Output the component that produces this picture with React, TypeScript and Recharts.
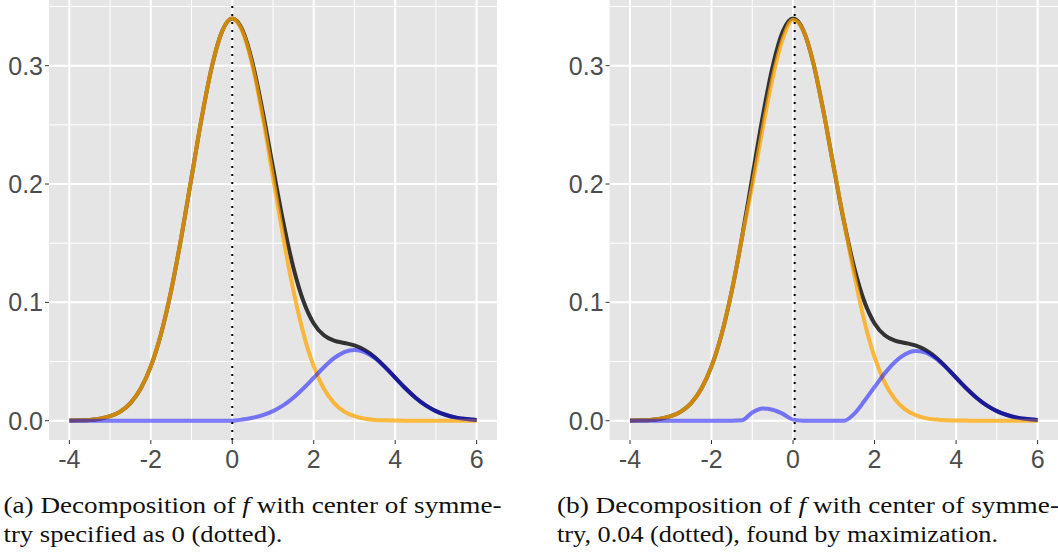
import { LineChart, Line, XAxis, YAxis, CartesianGrid, ReferenceLine } from "recharts";

// grid of x positions the curves were read at
const xs = [
  -4, -3.75, -3.5, -3.25, -3, -2.75, -2.5, -2.25, -2, -1.75, -1.5, -1.25, -1, -0.75, -0.5, -0.25,
  0, 0.25, 0.5, 0.75, 1, 1.25, 1.5, 1.75, 2, 2.25, 2.5, 2.75, 3, 3.25, 3.5, 3.75, 4, 4.25, 4.5,
  4.75, 5, 5.25, 5.5, 5.75, 6,
];

// f (black), same in both panels
const fTotal = [
  0.0001, 0.0003, 0.0007, 0.0017, 0.0038, 0.0077, 0.0149, 0.027, 0.0459, 0.0733, 0.1101, 0.1553,
  0.2057, 0.256, 0.2994, 0.329, 0.3398, 0.33, 0.3019, 0.2607, 0.2138, 0.1682, 0.1295, 0.1007,
  0.0822, 0.0722, 0.0677, 0.0657, 0.0636, 0.0597, 0.0536, 0.0455, 0.0364, 0.0274, 0.0194, 0.0129,
  0.0081, 0.0048, 0.0026, 0.0014, 0.0007,
];

// (a) symmetric part (orange) and remainder (blue)
const symA = [
  0.0001, 0.0003, 0.0007, 0.0017, 0.0038, 0.0077, 0.0149, 0.027, 0.0459, 0.0733, 0.1101, 0.1553,
  0.2057, 0.256, 0.2994, 0.329, 0.3398, 0.329, 0.2994, 0.256, 0.2057, 0.1553, 0.1101, 0.0733,
  0.0459, 0.027, 0.0149, 0.0077, 0.0038, 0.0017, 0.0007, 0.0003, 0.0001, 0, 0, 0, 0, 0, 0, 0, 0,
];
const restA = [
  0, 0, 0, 0, 0, 0, 0, 0, 0, 0, 0, 0, 0, 0, 0, 0, 0, 0.001, 0.0025, 0.0047, 0.0081, 0.0129,
  0.0194, 0.0274, 0.0363, 0.0452, 0.0528, 0.058, 0.0598, 0.058, 0.0529, 0.0452, 0.0363, 0.0274,
  0.0194, 0.0129, 0.0081, 0.0048, 0.0026, 0.0014, 0.0007,
];

// (b) symmetric part about 0.04 and remainder
const symB = [
  0.0001, 0.0003, 0.0007, 0.0017, 0.0038, 0.0077, 0.0149, 0.027, 0.0459, 0.0733, 0.1101, 0.1549,
  0.1987, 0.246, 0.2898, 0.3228, 0.3389, 0.33, 0.3019, 0.2607, 0.2138, 0.1682, 0.1237, 0.0841,
  0.0537, 0.0322, 0.0181, 0.0096, 0.0048, 0.0022, 0.001, 0.0004, 0.0002, 0.0001, 0, 0, 0, 0, 0, 0, 0,
];
const restB = [
  0, 0, 0, 0, 0, 0, 0, 0, 0, 0, 0, 0.0004, 0.007, 0.0104, 0.0093, 0.0058, 0.0009, 0, 0, 0, 0, 0,
  0.0058, 0.0166, 0.0285, 0.04, 0.0496, 0.0561, 0.0588, 0.0575, 0.0526, 0.0451, 0.0362, 0.0273,
  0.0194, 0.0129, 0.0081, 0.0048, 0.0026, 0.0014, 0.0007,
];

const xTicks = [-4, -2, 0, 2, 4, 6];
const xMinor = [-3, -1, 1, 3, 5];
const yTicks = [0, 0.1, 0.2, 0.3];
const yMinor = [0.05, 0.15, 0.25, 0.35];

const BG = "#E5E5E5";
const tickStyle = { fill: "#4D4D4D", fontSize: 25, fontFamily: "Liberation Sans, Arial, sans-serif" };

function Panel({ sym, rest, center, width, yAxisWidth, marginRight }: any) {
  const rows = xs.map((x, i) => ({ x, total: fTotal[i], sym: sym[i], rest: rest[i] }));
  return (
    <LineChart
      width={width}
      height={475}
      data={rows}
      margin={{ top: 0, right: marginRight, bottom: 0, left: 0 }}
    >
      <CartesianGrid
        fill={BG}
        stroke="#fff"
        strokeWidth={1}
        horizontalValues={yMinor}
        verticalValues={xMinor}
      />
      <CartesianGrid stroke="#fff" strokeWidth={2} horizontalValues={yTicks} verticalValues={xTicks} />
      <XAxis
        type="number"
        dataKey="x"
        domain={[-4.5, 6.5]}
        ticks={xTicks}
        allowDataOverflow
        axisLine={false}
        tickLine={{ stroke: "#333" }}
        tickSize={4}
        tickMargin={6}
        height={35}
        tick={tickStyle}
        interval={0}
      />
      <YAxis
        type="number"
        domain={[-0.0163, 0.3555]}
        ticks={yTicks}
        allowDataOverflow
        axisLine={false}
        tickLine={{ stroke: "#333" }}
        tickSize={4}
        tickMargin={2}
        width={yAxisWidth}
        tick={tickStyle}
        tickFormatter={(v: number) => v.toFixed(1)}
        interval={0}
      />
      <Line
        type="monotone"
        dataKey="total"
        stroke="#000"
        strokeOpacity={0.78}
        strokeWidth={4}
        dot={false}
        activeDot={false}
        isAnimationActive={false}
      />
      <Line
        type="monotone"
        dataKey="sym"
        stroke="#FFA500"
        strokeOpacity={0.75}
        strokeWidth={4}
        dot={false}
        activeDot={false}
        isAnimationActive={false}
      />
      <Line
        type="monotone"
        dataKey="rest"
        stroke="#0000FF"
        strokeOpacity={0.5}
        strokeWidth={4}
        dot={false}
        activeDot={false}
        isAnimationActive={false}
      />
      <ReferenceLine x={center} stroke="#000" strokeWidth={2} strokeDasharray="2 6" />
    </LineChart>
  );
}

const serif = "Liberation Serif, Times New Roman, serif";

export default function App() {
  return (
    <div
      style={{
        position: "absolute",
        left: 0,
        top: 0,
        width: 1058,
        height: 554,
        background: "#fff",
        overflow: "hidden",
      }}
    >
      <div style={{ position: "absolute", left: 0, top: 0 }}>
        <Panel sym={symA} rest={restA} center={0} width={520} yAxisWidth={49} marginRight={23} />
      </div>
      <div style={{ position: "absolute", left: 560, top: 0 }}>
        <Panel sym={symB} rest={restB} center={0.04} width={498} yAxisWidth={49.6} marginRight={0} />
      </div>
      <svg
        width={1058}
        height={80}
        style={{ position: "absolute", left: 0, top: 474 }}
        fontFamily={serif}
        fontSize={23}
        fill="#111"
      >
        <text x={3.5} y={39} textLength={498} lengthAdjust="spacingAndGlyphs">
          (a) Decomposition of <tspan fontStyle="italic">f</tspan> with center of symme-
        </text>
        <text x={3.5} y={68} textLength={279} lengthAdjust="spacingAndGlyphs">
          try specified as 0 (dotted).
        </text>
        <text x={557} y={39} textLength={502} lengthAdjust="spacingAndGlyphs">
          (b) Decomposition of <tspan fontStyle="italic">f</tspan> with center of symme-
        </text>
        <text x={557} y={68} textLength={441} lengthAdjust="spacingAndGlyphs">
          try, 0.04 (dotted), found by maximization.
        </text>
      </svg>
    </div>
  );
}
